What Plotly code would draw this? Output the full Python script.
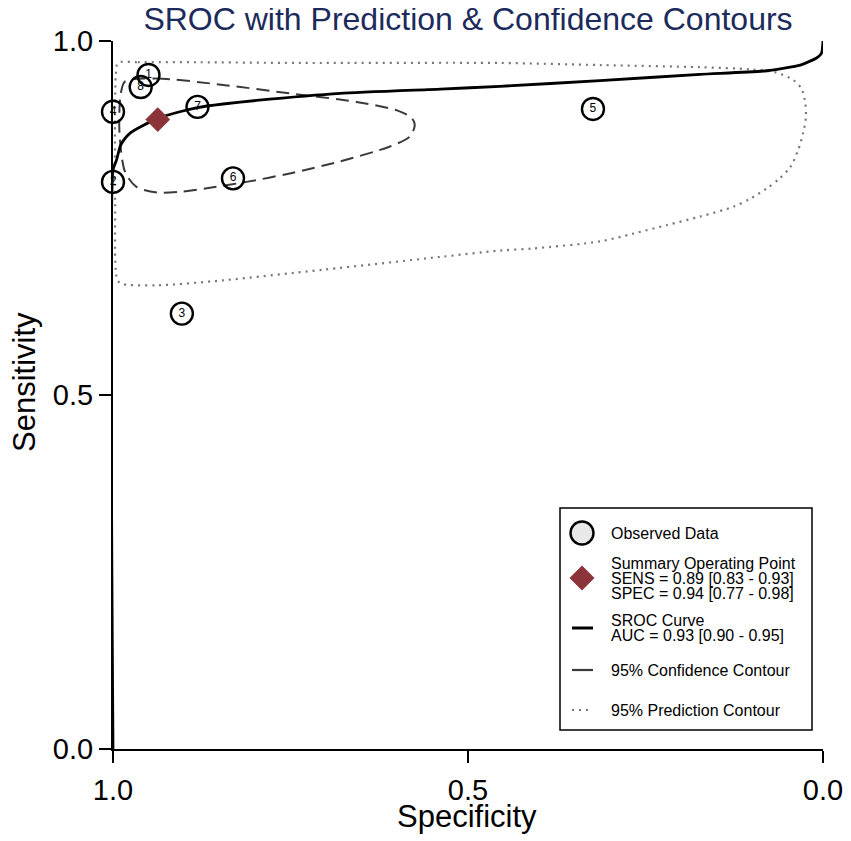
import plotly.graph_objects as go

# observed studies: specificity / sensitivity
study_id = [1, 2, 3, 4, 5, 6, 7, 8]
obs_spec = [0.950, 1.000, 0.903, 1.000, 0.324, 0.831, 0.881, 0.961]
obs_sens = [0.952, 0.801, 0.615, 0.900, 0.904, 0.806, 0.907, 0.935]

# summary operating point
sum_spec = [0.937]
sum_sens = [0.889]
sens_ci = ["0.89", "0.83", "0.93"]
spec_ci = ["0.94", "0.77", "0.98"]
auc_ci = ["0.93", "0.90", "0.95"]

# SROC curve
sroc_spec = [1.000, 1.000, 0.995, 0.990, 0.985, 0.976, 0.957, 0.936, 0.910, 0.881,
             0.845, 0.798, 0.680, 0.539, 0.455, 0.314, 0.173, 0.079, 0.032, 0.009,
             0.002, 0.000]
sroc_sens = [0.000, 0.818, 0.832, 0.851, 0.860, 0.870, 0.881, 0.891, 0.899, 0.906,
             0.911, 0.916, 0.926, 0.932, 0.936, 0.944, 0.953, 0.958, 0.966, 0.976,
             0.983, 1.000]

# 95% confidence contour
conf_spec = [0.983, 0.938, 0.845, 0.751, 0.657, 0.600, 0.579, 0.575, 0.582, 0.610,
             0.680, 0.751, 0.812, 0.868, 0.906, 0.938, 0.967, 0.983, 0.991, 0.989,
             0.983]
conf_sens = [0.943, 0.947, 0.938, 0.926, 0.914, 0.902, 0.891, 0.881, 0.865, 0.851,
             0.830, 0.813, 0.801, 0.792, 0.787, 0.786, 0.794, 0.815, 0.874, 0.926,
             0.943]

# 95% prediction contour
pred_spec = [0.993, 0.965, 0.880, 0.737, 0.455, 0.314, 0.173, 0.103, 0.068, 0.042,
             0.030, 0.025, 0.024, 0.028, 0.035, 0.046, 0.061, 0.079, 0.103, 0.126,
             0.173, 0.220, 0.267, 0.314, 0.408, 0.455, 0.539, 0.704, 0.845, 0.938,
             0.990, 0.995, 0.997, 0.997, 0.996, 0.993]
pred_sens = [0.969, 0.970, 0.970, 0.969, 0.969, 0.966, 0.963, 0.960, 0.956, 0.945,
             0.932, 0.912, 0.893, 0.870, 0.846, 0.822, 0.806, 0.792, 0.777, 0.766,
             0.752, 0.740, 0.728, 0.717, 0.707, 0.704, 0.695, 0.677, 0.662, 0.655,
             0.658, 0.667, 0.775, 0.917, 0.952, 0.969]

FONT = "Liberation Sans, Arial, sans-serif"

# page has an 8px body margin, so the figure is a bit smaller than the window
OFF = 8
W, H = 851 - OFF, 841 - OFF
# plot area in window pixels (used to place the hand-drawn legend and titles)
L, R, T, B = 113, 823, 41, 749


def px(x, y):
    return (x - L) / (R - L), (B - y) / (B - T)


fig = go.Figure()

fig.add_trace(go.Scatter(x=pred_spec, y=pred_sens, mode="lines",
                         line=dict(color="#777777", width=2.2, dash="2px,5px",
                                   shape="spline", smoothing=0.8),
                         hoverinfo="skip"))
fig.add_trace(go.Scatter(x=conf_spec, y=conf_sens, mode="lines",
                         line=dict(color="#3a3a3a", width=2, dash="13px,7px",
                                   shape="spline", smoothing=0.8),
                         hoverinfo="skip"))
fig.add_trace(go.Scatter(x=sroc_spec, y=sroc_sens, mode="lines",
                         line=dict(color="black", width=2.8, shape="spline",
                                   smoothing=0.5),
                         hoverinfo="skip"))
fig.add_trace(go.Scatter(x=obs_spec, y=obs_sens, mode="markers+text",
                         text=[str(i) for i in study_id], textposition="middle center",
                         textfont=dict(family=FONT, size=12, color="black"),
                         marker=dict(size=22, color="rgba(0,0,0,0)",
                                     line=dict(color="black", width=2.4)),
                         cliponaxis=False))
fig.add_trace(go.Scatter(x=sum_spec, y=sum_sens, mode="markers",
                         marker=dict(symbol="diamond", size=19, color="#8b3439",
                                     line=dict(width=0)),
                         cliponaxis=False))

# ---- legend drawn by hand ----
shapes = []
bx0, by0 = px(560, 508)
bx1, by1 = px(812, 730)
shapes.append(dict(type="rect", xref="paper", yref="paper", x0=bx0, y0=by0, x1=bx1, y1=by1,
                   line=dict(color="black", width=1.5), fillcolor="white"))

kx, ky = px(582, 533)
shapes.append(dict(type="circle", xref="paper", yref="paper", xsizemode="pixel",
                   ysizemode="pixel", xanchor=kx, yanchor=ky, x0=-11.5, x1=11.5, y0=-11.5,
                   y1=11.5, line=dict(color="black", width=2.4), fillcolor="#e8e8e8"))
kx, ky = px(582, 578)
shapes.append(dict(type="path", xref="paper", yref="paper", xsizemode="pixel",
                   ysizemode="pixel", xanchor=kx, yanchor=ky,
                   path="M -12.5 0 L 0 12.5 L 12.5 0 L 0 -12.5 Z",
                   line=dict(width=0), fillcolor="#8b3439"))
for y, w, col, dash in [(628, 3, "black", "solid"), (670, 2.2, "#3a3a3a", "solid"),
                        (710, 2, "#777777", "2px,5px")]:
    ax0, ay = px(572, y)
    ax1, _ = px(593, y)
    shapes.append(dict(type="line", xref="paper", yref="paper", x0=ax0, x1=ax1, y0=ay, y1=ay,
                       line=dict(color=col, width=w, dash=dash)))

legend_lines = [
    ("Observed Data", 533),
    ("Summary Operating Point", 563),
    ("SENS = %s [%s - %s]" % tuple(sens_ci), 578),
    ("SPEC = %s [%s - %s]" % tuple(spec_ci), 593),
    ("SROC Curve", 620),
    ("AUC = %s [%s - %s]" % tuple(auc_ci), 635),
    ("95% Confidence Contour", 670),
    ("95% Prediction Contour", 710),
]
annotations = []
for txt, y in legend_lines:
    ax, ay = px(609, y)
    annotations.append(dict(text=txt, x=ax, y=ay, xref="paper", yref="paper",
                            xanchor="left", yanchor="middle", showarrow=False,
                            font=dict(family=FONT, size=16, color="black")))

# axis titles placed by hand
ax, ay = px(24, 382)
annotations.append(dict(text="Sensitivity", x=ax, y=ay, xref="paper", yref="paper",
                        textangle=-90, xanchor="center", yanchor="middle", showarrow=False,
                        font=dict(family=FONT, size=31, color="black")))
ax, ay = px(467, 817)
annotations.append(dict(text="Specificity", x=ax, y=ay, xref="paper", yref="paper",
                        xanchor="center", yanchor="middle", showarrow=False,
                        font=dict(family=FONT, size=31, color="black")))

axis_common = dict(showline=True, linecolor="black", linewidth=2, ticks="outside",
                   ticklen=12, tickwidth=2, tickcolor="black", showgrid=False,
                   zeroline=False, automargin=False,
                   tickfont=dict(family=FONT, size=29, color="black"),
                   tickvals=[1, 0.5, 0], ticktext=["1.0", "0.5", "0.0"])

fig.update_layout(
    width=W, height=H,
    margin=dict(l=L - OFF, r=851 - R, t=T - OFF, b=841 - B),
    paper_bgcolor="white", plot_bgcolor="white",
    showlegend=False,
    title=dict(text="SROC with Prediction & Confidence Contours", x=0.5, xref="paper",
               xanchor="center", y=1 - (19 - OFF) / H, yref="container", yanchor="middle",
               automargin=False,
               font=dict(family=FONT, size=32, color="#1c2a5c")),
    xaxis=dict(range=[1, 0], ticklabelstandoff=2, **axis_common),
    yaxis=dict(range=[0, 1], ticklabelstandoff=0, **axis_common),
    shapes=shapes,
    annotations=annotations,
)

fig.write_html("out.html")
